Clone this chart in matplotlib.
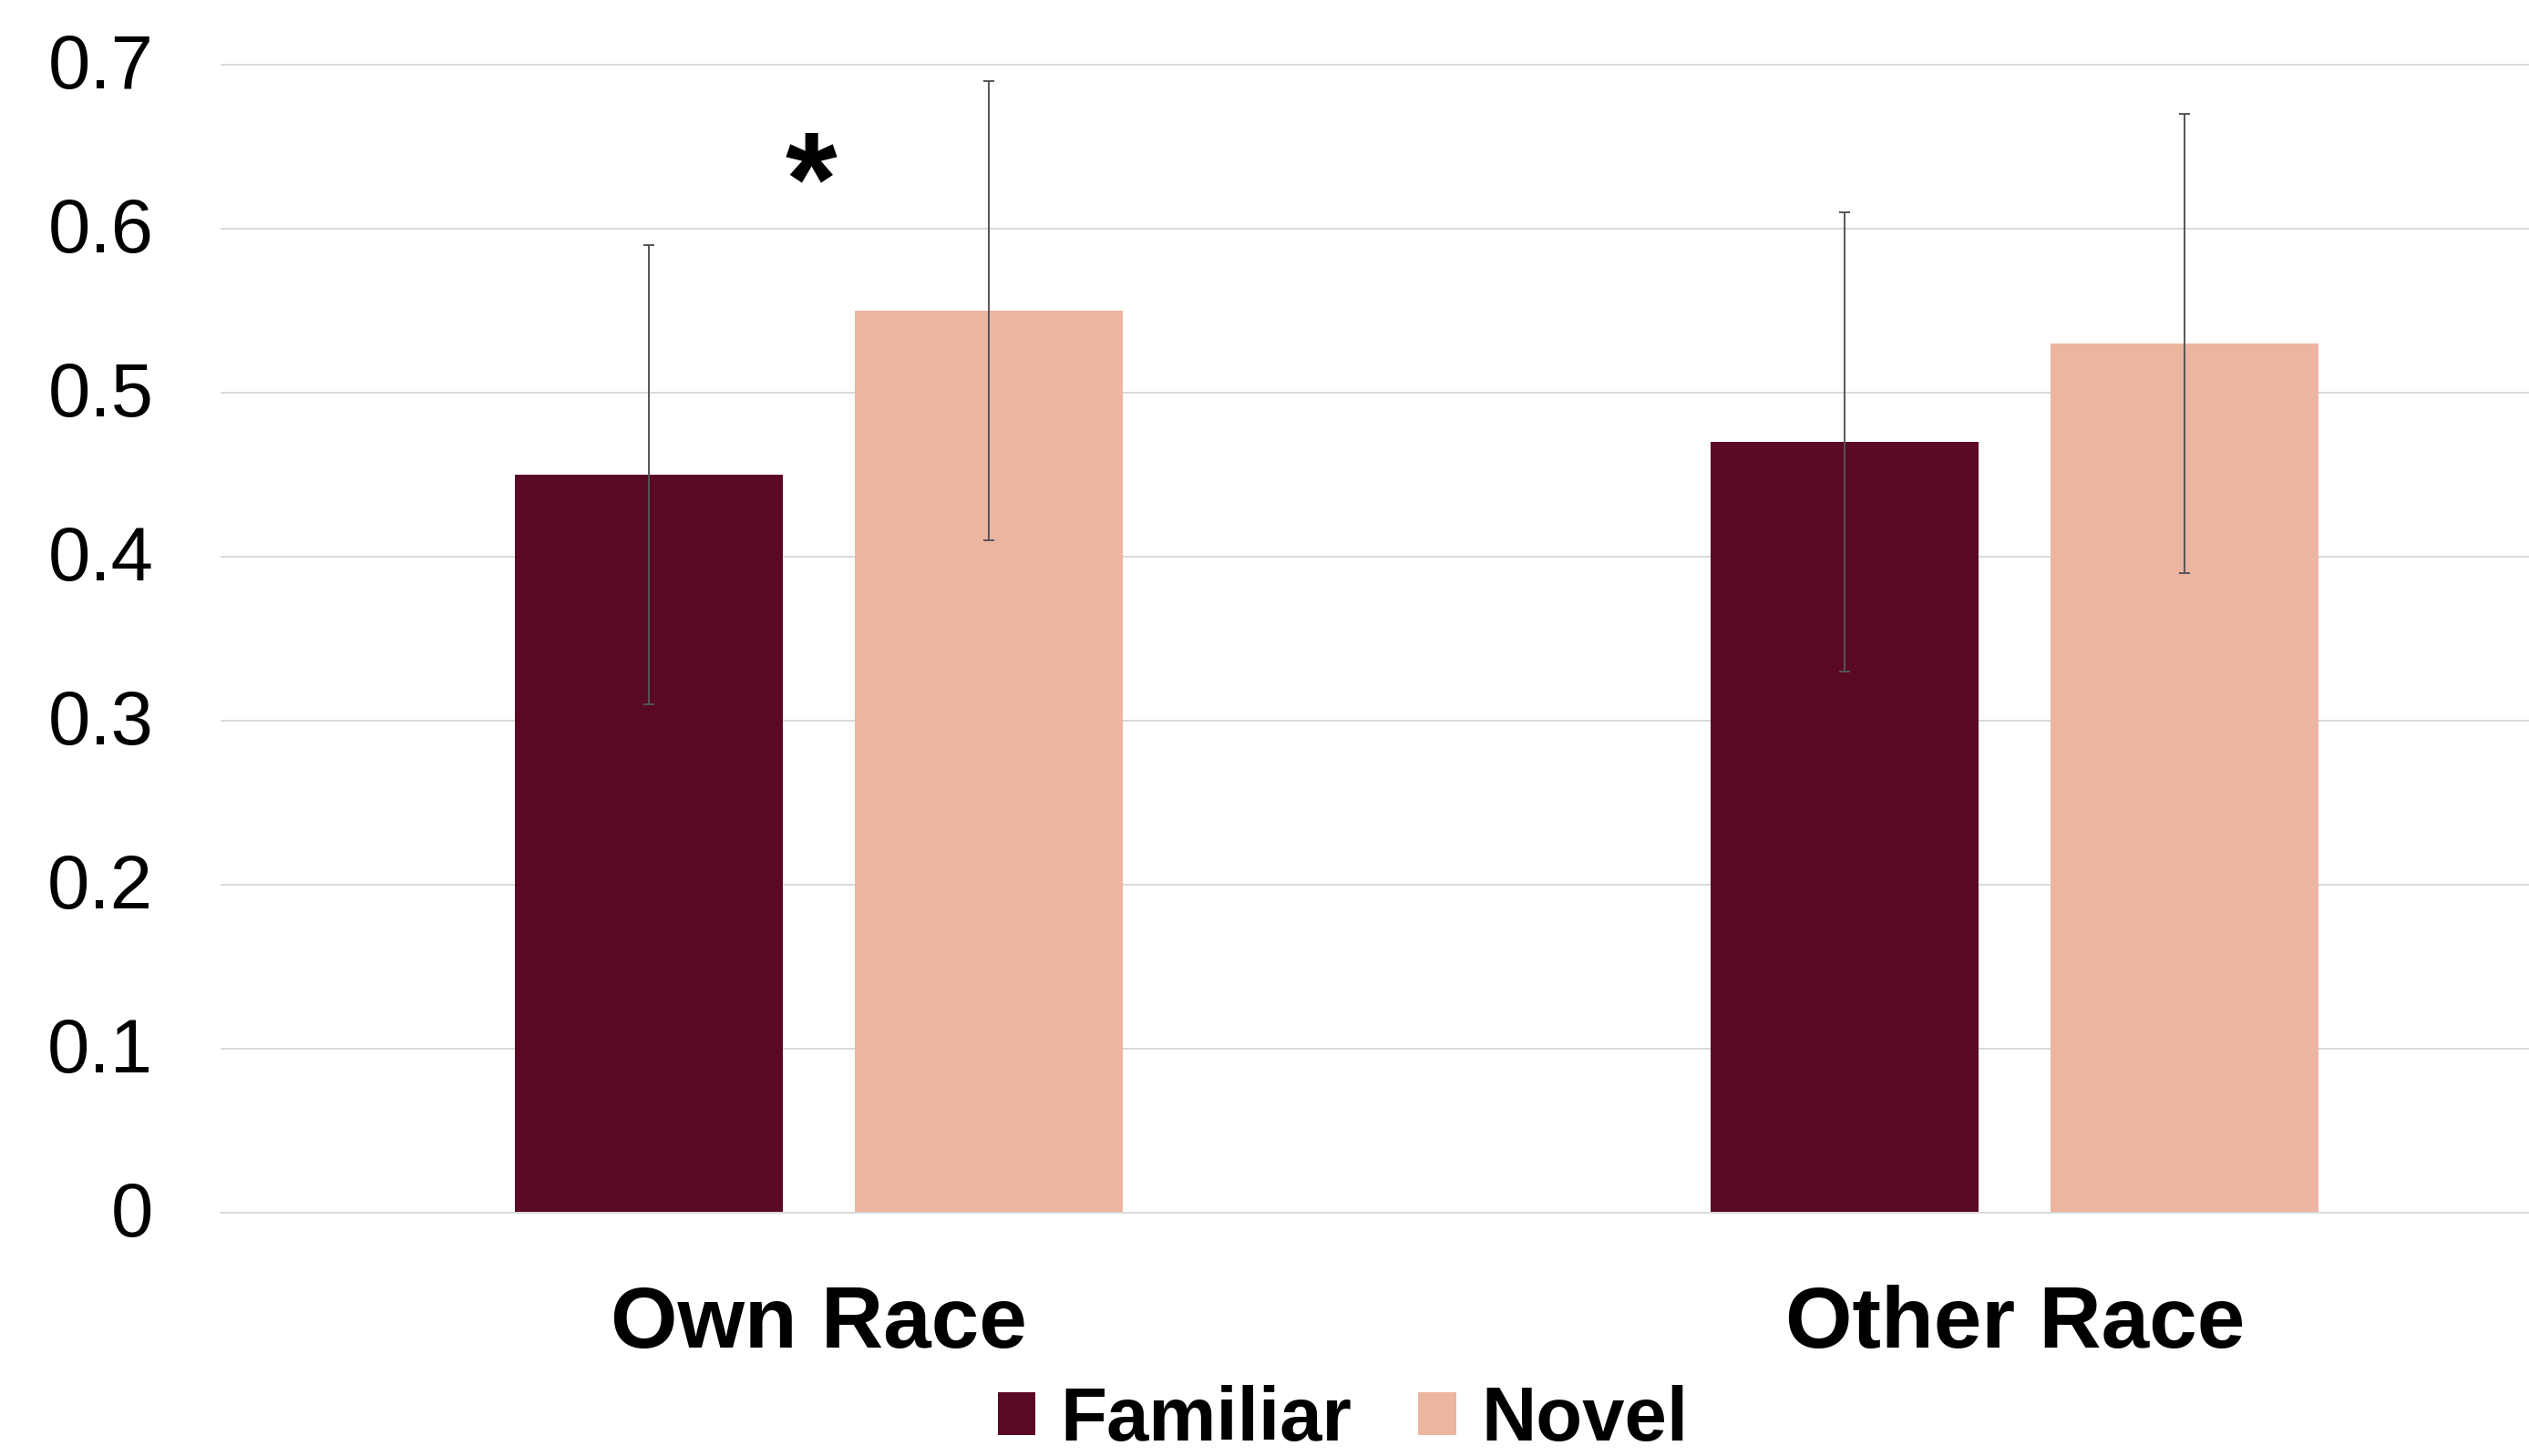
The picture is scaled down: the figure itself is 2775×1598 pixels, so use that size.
import matplotlib
matplotlib.use("Agg")
import numpy as np
import matplotlib.pyplot as plt
from matplotlib.transforms import ScaledTranslation

plt.rcParams["font.family"] = ["Liberation Sans", "DejaVu Sans"]

groups = ["Own Race", "Other Race"]
familiar = [0.45, 0.47]
familiar_err = [0.14, 0.14]
novel = [0.55, 0.53]
novel_err = [0.14, 0.14]
yticks = [0, 0.1, 0.2, 0.3, 0.4, 0.5, 0.6, 0.7]

C_FAM = "#5A0922"
C_NOV = "#EBB5A0"
C_ERR = "#555555"
C_GRID = "#D9D9D9"

fig = plt.figure(figsize=(27.75, 15.98), dpi=100)
# plot area runs past the right and top edge, as in the cropped original
ax = fig.add_axes([0.0872, 0.167, 0.946, 0.901])

x = np.arange(len(groups))
off, w = 0.142, 0.224
ekw = dict(ecolor=C_ERR, elinewidth=1.4, capsize=4.5, capthick=1.4)
b1 = ax.bar(x - off, familiar, w, color=C_FAM, yerr=familiar_err,
            error_kw=ekw, label="Familiar", zorder=2)
b2 = ax.bar(x + off, novel, w, color=C_NOV, yerr=novel_err,
            error_kw=ekw, label="Novel", zorder=2)

# significance marker
ax.text(x[0] - 0.006, 0.624, "*", ha="center", va="center",
        fontsize=105, fontweight="bold")

ax.set_xlim(-0.5, 1.5)
ax.set_ylim(0, 0.8)
ax.set_yticks(yticks)
ax.set_yticklabels([f"{t:g}" for t in yticks], fontsize=60)
ax.set_xticks(x)
ax.set_xticklabels(groups, fontsize=68, fontweight="bold")
ax.tick_params(axis="y", length=0, pad=53)
ax.tick_params(axis="x", length=0, pad=57)
up = ScaledTranslation(0, 5 / 100, fig.dpi_scale_trans)
for lab in ax.get_yticklabels():
    lab.set_transform(lab.get_transform() + up)
ax.grid(axis="y", color=C_GRID, lw=1.4, zorder=0)
ax.set_axisbelow(True)
for s in ["top", "right", "left"]:
    ax.spines[s].set_visible(False)
ax.spines["bottom"].set_color(C_GRID)
ax.spines["bottom"].set_linewidth(1.4)

fig.legend(handles=[b1, b2], loc="lower center", bbox_to_anchor=(0.531, -0.026),
           ncol=2, frameon=False, prop={"weight": "bold", "size": 60},
           handlelength=0.5, handleheight=0.5, handletextpad=0.33,
           columnspacing=0.87, borderpad=0)

fig.savefig("out.png", dpi=100)
